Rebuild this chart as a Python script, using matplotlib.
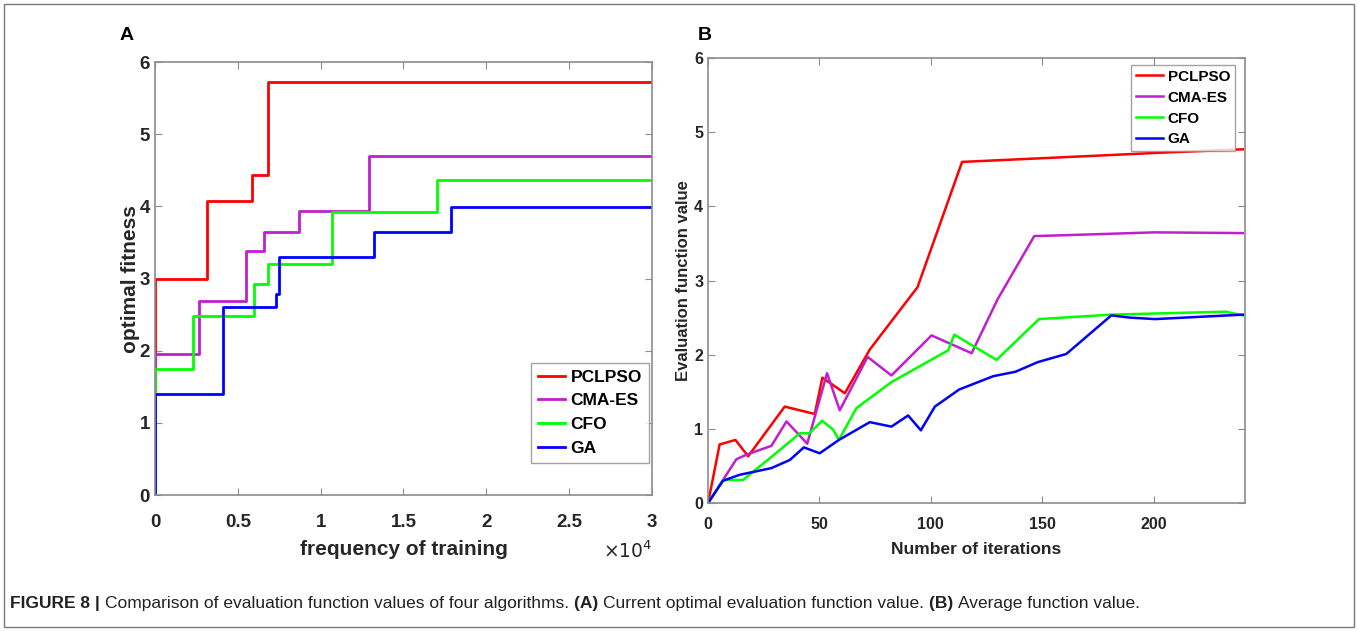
import numpy as np
import matplotlib
matplotlib.use('Agg')
import matplotlib.pyplot as plt
from matplotlib.ticker import FuncFormatter
from matplotlib.patches import Rectangle
from matplotlib.text import Annotation

plt.rcParams['font.family'] = ['Liberation Sans', 'DejaVu Sans']

# ---- Panel A : current optimal fitness (step curves) ----
a_names = ['PCLPSO', 'CMA-ES', 'CFO', 'GA']
a_red_x = [0, 0, 3170, 5880, 6830, 30000]
a_red_y = [1.45, 3.00, 4.08, 4.43, 5.72, 5.72]
a_mag_x = [0, 0, 2670, 5480, 6590, 8710, 12950, 30000]
a_mag_y = [1.45, 1.96, 2.69, 3.38, 3.64, 3.94, 4.70, 4.70]
a_grn_x = [0, 0, 2270, 5980, 6830, 10700, 17050, 30000]
a_grn_y = [0.0, 1.74, 2.48, 2.92, 3.20, 3.92, 4.36, 4.36]
a_blu_x = [0, 0, 4120, 7290, 7490, 13210, 17850, 30000]
a_blu_y = [0.0, 1.40, 2.61, 2.78, 3.30, 3.65, 3.99, 3.99]

# ---- Panel B : average evaluation function value ----
b_red_x = [0, 5.2, 12.3, 18, 34.4, 47.9, 51.3, 61.4, 72.6, 94, 114, 150, 200, 240]
b_red_y = [0, 0.79, 0.85, 0.63, 1.30, 1.20, 1.69, 1.48, 2.07, 2.91, 4.60, 4.65, 4.72, 4.77]
b_mag_x = [0, 6.7, 12.7, 18, 28.4, 35.2, 44.5, 53.4, 59.1, 71.6, 82.3, 100.3, 118.3, 130, 146.4, 158.6, 200.6, 240]
b_mag_y = [0, 0.31, 0.59, 0.66, 0.77, 1.10, 0.80, 1.75, 1.25, 1.97, 1.72, 2.26, 2.02, 2.75, 3.60, 3.61, 3.65, 3.64]
b_grn_x = [0, 6.7, 15.7, 28.4, 41.2, 45.4, 51.2, 56.1, 58.7, 66.6, 82.3, 107.8, 110.5, 129.5, 148.5, 181, 232.4, 240]
b_grn_y = [0, 0.31, 0.31, 0.62, 0.94, 0.94, 1.11, 0.99, 0.85, 1.28, 1.63, 2.06, 2.27, 1.93, 2.48, 2.54, 2.58, 2.53]
b_blu_x = [0, 6.7, 14.2, 28.4, 36.7, 43, 50.1, 58.7, 72.6, 82.3, 89.8, 95.5, 101.8, 112.7, 128, 138, 148, 160.8, 181, 189.3, 200.6, 240]
b_blu_y = [0, 0.30, 0.38, 0.47, 0.58, 0.75, 0.67, 0.85, 1.09, 1.03, 1.18, 0.98, 1.30, 1.53, 1.71, 1.77, 1.90, 2.01, 2.53, 2.50, 2.48, 2.54]

caption_parts = [('FIGURE 8 | ', 'bold'),
                 ('Comparison of evaluation function values of four algorithms. ', 'normal'),
                 ('(A) ', 'bold'),
                 ('Current optimal evaluation function value. ', 'normal'),
                 ('(B) ', 'bold'),
                 ('Average function value.', 'normal')]

colors = ['#ff0000', '#bf1fcc', '#00ff00', '#0000ff']
frame_col = '#8c8c8c'

fig = plt.figure(figsize=(13.58, 6.31), dpi=100)

# outer frame of the figure
fig.patches.append(Rectangle((0.003, 0.006), 0.994, 0.987, transform=fig.transFigure,
                             fill=False, edgecolor='#7a7a7a', linewidth=1.0))


def style_axes(ax, size, pad):
    for s in ax.spines.values():
        s.set_color(frame_col)
        s.set_linewidth(1.2)
    ax.tick_params(direction='in', top=True, right=True, length=5, color=frame_col,
                   labelsize=size)
    ax.tick_params(axis='x', pad=pad)
    for lab in ax.get_xticklabels() + ax.get_yticklabels():
        lab.set_fontweight('bold')
        lab.set_color('#262626')


# --- Panel A
axA = fig.add_axes([0.1141, 0.2155, 0.366, 0.686])
series_a = [(a_red_x, a_red_y), (a_mag_x, a_mag_y), (a_grn_x, a_grn_y), (a_blu_x, a_blu_y)]
for (xs, ys), c, n in zip(series_a, colors, a_names):
    axA.plot(xs, ys, drawstyle='steps-post', color=c, lw=2.0, label=n)
axA.set_xlim(0, 30000)
axA.set_ylim(0, 6)
axA.set_xticks(np.arange(0, 30001, 5000))
axA.set_yticks(range(0, 7))
axA.xaxis.set_major_formatter(FuncFormatter(lambda v, p: '%g' % (v / 1e4)))
style_axes(axA, 13.5, 14)
axA.set_xlabel('frequency of training', fontsize=15, fontweight='bold', color='#262626', labelpad=6)
axA.set_ylabel('optimal fitness', fontsize=15, fontweight='bold', color='#262626', labelpad=0)
axA.text(1.0, -0.131, r'$\times10^4$', transform=axA.transAxes, ha='right',
         va='center', fontsize=13.5, color='#262626')
legA = axA.legend(loc='upper right', bbox_to_anchor=(0.994, 0.306), borderaxespad=0,
                  frameon=True, fancybox=False, edgecolor=frame_col, handlelength=1.6,
                  handletextpad=0.3, labelspacing=0.5, borderpad=0.4,
                  prop={'weight': 'bold', 'size': 12.5})
legA.get_frame().set_linewidth(1.0)

# --- Panel B
axB = fig.add_axes([0.5214, 0.2029, 0.3954, 0.705])
series_b = [(b_red_x, b_red_y), (b_mag_x, b_mag_y), (b_grn_x, b_grn_y), (b_blu_x, b_blu_y)]
for (xs, ys), c, n in zip(series_b, colors, a_names):
    axB.plot(xs, ys, color=c, lw=1.8, label=n)
axB.set_xlim(0, 241)
axB.set_ylim(0, 6)
axB.set_xticks([0, 50, 100, 150, 200])
axB.set_yticks(range(0, 7))
style_axes(axB, 11.5, 10)
axB.set_xlabel('Number of iterations', fontsize=12.5, fontweight='bold', color='#262626', labelpad=7)
axB.set_ylabel('Evaluation function value', fontsize=12, fontweight='bold', color='#262626', labelpad=2)
legB = axB.legend(loc='upper right', bbox_to_anchor=(0.981, 0.984), borderaxespad=0,
                  frameon=True, fancybox=False, edgecolor=frame_col, handlelength=1.8,
                  handletextpad=0.3, labelspacing=0.45, borderpad=0.3,
                  prop={'weight': 'bold', 'size': 11})
legB.get_frame().set_linewidth(1.0)

# panel letters
fig.text(0.0935, 0.944, 'A', fontsize=14, fontweight='bold', ha='center', va='center')
fig.text(0.519, 0.944, 'B', fontsize=14, fontweight='bold', ha='center', va='center')

# caption, pieces chained one after the other
prev = fig.text(0.0075, 0.036, caption_parts[0][0], fontsize=12.5,
                fontweight=caption_parts[0][1], ha='left', va='baseline', color='#222222')
for txt, w in caption_parts[1:]:
    prev = fig.add_artist(Annotation(txt, xy=(1, 0), xycoords=prev, fontsize=12.5,
                                     fontweight=w, ha='left', va='bottom', color='#222222'))

fig.savefig('out.png', dpi=100)
